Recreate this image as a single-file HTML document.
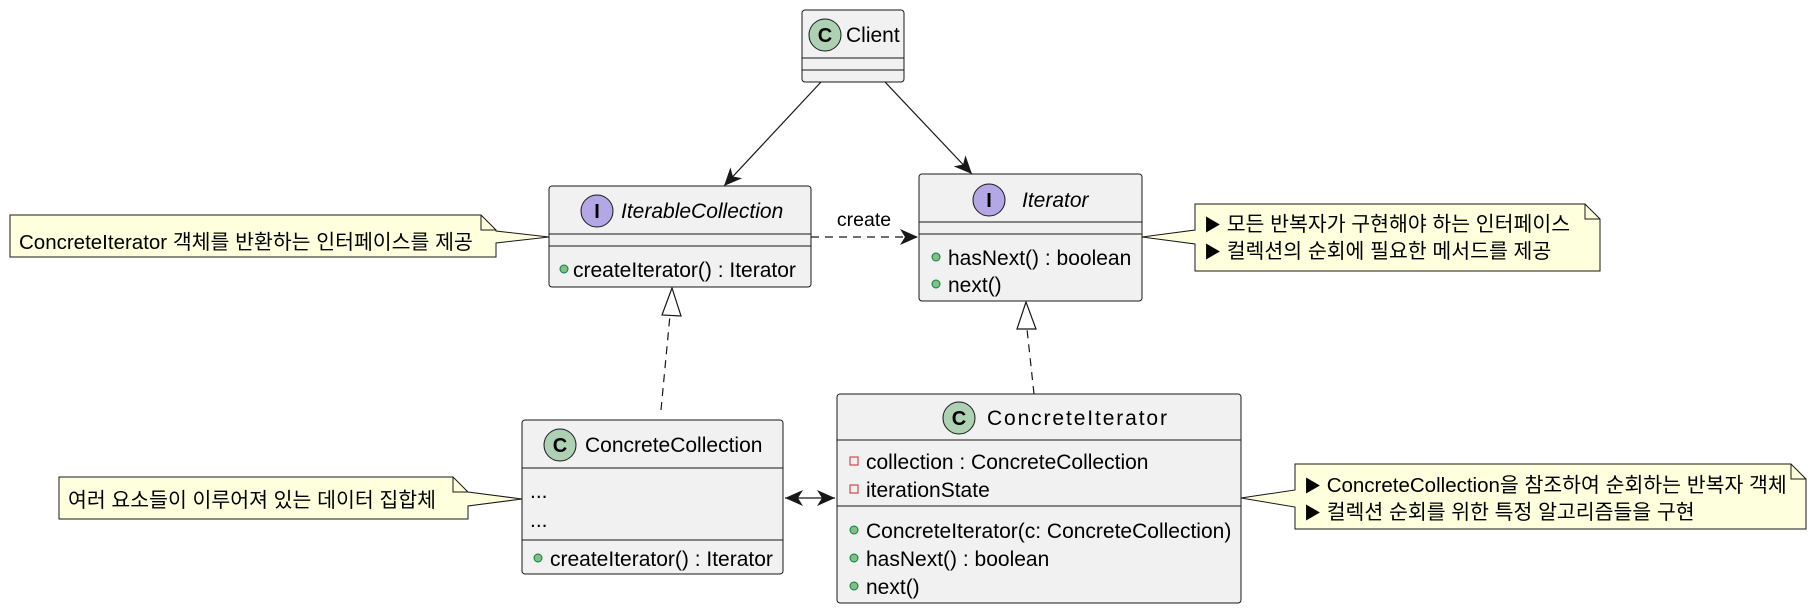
<!DOCTYPE html>
<html><head><meta charset="utf-8"><style>
html,body{margin:0;padding:0;background:#fff;}
svg{display:block;}
text{font-family:"Liberation Sans","Noto Sans CJK KR",sans-serif;fill:#000;}
</style></head><body>
<svg width="1816" height="613" viewBox="0 0 1816 613" xmlns="http://www.w3.org/2000/svg">
<defs>
<marker id="ah" viewBox="0 0 20 20" refX="18" refY="10" markerWidth="20" markerHeight="20" markerUnits="userSpaceOnUse" orient="auto-start-reverse">
<path d="M0,2 L18,10 L0,18 L5,10 Z" fill="#181818"/>
</marker>
</defs>
<g stroke="#181818" stroke-width="1.2" fill="none">
<line x1="821" y1="82" x2="724" y2="186" marker-end="url(#ah)"/>
<line x1="885" y1="82" x2="972" y2="174" marker-end="url(#ah)"/>
<line x1="811" y1="237" x2="918" y2="237" stroke-dasharray="8,6" marker-end="url(#ah)"/>
<line x1="661" y1="410" x2="670" y2="315" stroke-dasharray="8,6"/>
<path d="M672,288 L662,315 L681,316 Z" fill="#fff"/>
<line x1="1034" y1="394" x2="1027" y2="329" stroke-dasharray="8,6"/>
<path d="M1026,302 L1017,329 L1036,329 Z" fill="#fff"/>
<line x1="785" y1="498" x2="835" y2="498" marker-end="url(#ah)" marker-start="url(#ah)"/>
</g>

<rect x="802" y="10" width="102" height="72" rx="3" fill="#F1F1F1" stroke="#181818" stroke-width="1"/>
<line x1="802" y1="58" x2="904" y2="58" stroke="#181818"/>
<line x1="802" y1="70" x2="904" y2="70" stroke="#181818"/>
<circle cx="825" cy="35" r="16" fill="#ADD1B2" stroke="#181818"/>
<text x="825" y="42" font-size="20" font-weight="bold" text-anchor="middle">C</text>
<text x="846" y="42" font-size="21">Client</text>

<rect x="549" y="186" width="262" height="101" rx="3" fill="#F1F1F1" stroke="#181818"/>
<line x1="549" y1="234" x2="811" y2="234" stroke="#181818"/>
<line x1="549" y1="246" x2="811" y2="246" stroke="#181818"/>
<circle cx="597" cy="211" r="16" fill="#B4A7E5" stroke="#181818"/>
<text x="597" y="218" font-size="20" font-weight="bold" text-anchor="middle" font-family="Liberation Mono">I</text>
<text x="621" y="218" font-size="21" font-style="italic">IterableCollection</text>
<circle cx="564" cy="269" r="4" fill="#84BE84" stroke="#038048"/>
<text x="573" y="277" font-size="21">createIterator() : Iterator</text>

<rect x="919" y="174" width="223" height="127" rx="3" fill="#F1F1F1" stroke="#181818"/>
<line x1="919" y1="222" x2="1142" y2="222" stroke="#181818"/>
<line x1="919" y1="234" x2="1142" y2="234" stroke="#181818"/>
<circle cx="989" cy="200" r="16" fill="#B4A7E5" stroke="#181818"/>
<text x="989" y="207" font-size="20" font-weight="bold" text-anchor="middle" font-family="Liberation Mono">I</text>
<text x="1022" y="207" font-size="21" font-style="italic">Iterator</text>
<circle cx="936" cy="257" r="4" fill="#84BE84" stroke="#038048"/>
<text x="948" y="265" font-size="21">hasNext() : boolean</text>
<circle cx="936" cy="284" r="4" fill="#84BE84" stroke="#038048"/>
<text x="948" y="292" font-size="21">next()</text>

<text x="864" y="226" font-size="19.5" text-anchor="middle">create</text>

<rect x="522" y="420" width="261" height="154" rx="3" fill="#F1F1F1" stroke="#181818"/>
<line x1="522" y1="468" x2="783" y2="468" stroke="#181818"/>
<line x1="522" y1="540" x2="783" y2="540" stroke="#181818"/>
<circle cx="560" cy="445" r="16" fill="#ADD1B2" stroke="#181818"/>
<text x="560" y="452" font-size="20" font-weight="bold" text-anchor="middle">C</text>
<text x="585" y="452" font-size="21">ConcreteCollection</text>
<text x="530" y="498" font-size="21">...</text>
<text x="530" y="527" font-size="21">...</text>
<circle cx="538" cy="558" r="4" fill="#84BE84" stroke="#038048"/>
<text x="550" y="566" font-size="21">createIterator() : Iterator</text>

<rect x="837" y="394" width="404" height="209" rx="3" fill="#F1F1F1" stroke="#181818"/>
<line x1="837" y1="440" x2="1241" y2="440" stroke="#181818"/>
<line x1="837" y1="506" x2="1241" y2="506" stroke="#181818"/>
<circle cx="959" cy="418" r="16" fill="#ADD1B2" stroke="#181818"/>
<text x="959" y="425" font-size="20" font-weight="bold" text-anchor="middle">C</text>
<text x="987" y="425" font-size="21" textLength="180" lengthAdjust="spacing">ConcreteIterator</text>
<rect x="850" y="457" width="8" height="8" fill="none" stroke="#C82930"/>
<text x="866" y="469" font-size="21">collection : ConcreteCollection</text>
<rect x="850" y="485" width="8" height="8" fill="none" stroke="#C82930"/>
<text x="866" y="497" font-size="21">iterationState</text>
<circle cx="854" cy="530" r="4" fill="#84BE84" stroke="#038048"/>
<text x="866" y="538" font-size="21">ConcreteIterator(c: ConcreteCollection)</text>
<circle cx="854" cy="558" r="4" fill="#84BE84" stroke="#038048"/>
<text x="866" y="566" font-size="21">hasNext() : boolean</text>
<circle cx="854" cy="586" r="4" fill="#84BE84" stroke="#038048"/>
<text x="866" y="594" font-size="21">next()</text>

<g fill="#FEFFDD" stroke="#181818" stroke-width="1">
<path d="M10,215 L481,215 L496,230 L496,231 L549,237 L496,243 L496,257 L10,257 Z"/>
<path d="M481,215 L481,230 L496,230" fill="none"/>
<path d="M1195,204 L1585,204 L1600,219 L1600,271 L1195,271 L1195,244 L1142,237 L1195,230 Z"/>
<path d="M1585,204 L1585,219 L1600,219" fill="none"/>
<path d="M59,477 L453,477 L468,492 L468,492 L522,499 L468,506 L468,519 L59,519 Z"/>
<path d="M453,477 L453,492 L468,492" fill="none"/>
<path d="M1295,464 L1791,464 L1806,479 L1806,529 L1295,529 L1295,507 L1241,498 L1295,490 Z"/>
<path d="M1791,464 L1791,479 L1806,479" fill="none"/>
</g>
<text x="19" y="249" font-size="20.5">ConcreteIterator 객체를 반환하는 인터페이스를 제공</text>
<text x="1204" y="231" font-size="20.5"><tspan font-size="17">▶</tspan> 모든 반복자가 구현해야 하는 인터페이스</text>
<text x="1204" y="258" font-size="20.5"><tspan font-size="17">▶</tspan> 컬렉션의 순회에 필요한 메서드를 제공</text>
<text x="68" y="507" font-size="20.5">여러 요소들이 이루어져 있는 데이터 집합체</text>
<text x="1304" y="492" font-size="20.5"><tspan font-size="17">▶</tspan> ConcreteCollection을 참조하여 순회하는 반복자 객체</text>
<text x="1304" y="519" font-size="20.5"><tspan font-size="17">▶</tspan> 컬렉션 순회를 위한 특정 알고리즘들을 구현</text>
</svg>
</body></html>
